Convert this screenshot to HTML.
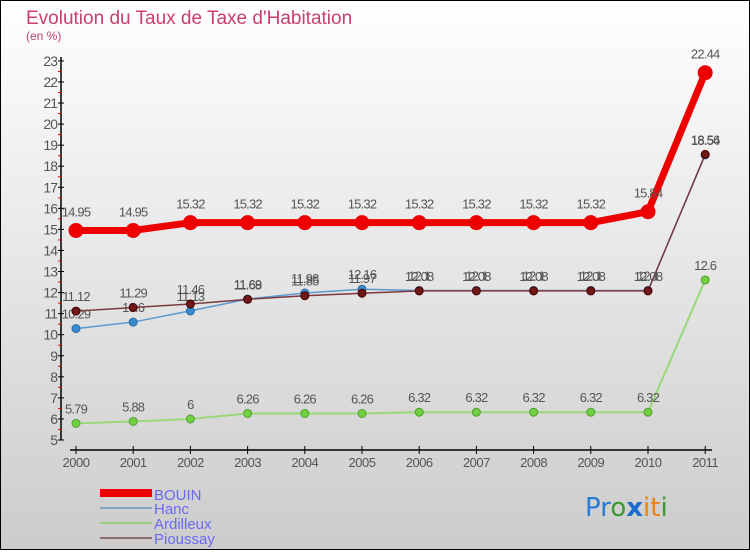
<!DOCTYPE html>
<html><head><meta charset="utf-8"><style>
body{margin:0}
#c{width:750px;height:550px;position:relative;font-family:"Liberation Sans",sans-serif}
</style></head><body>
<div id="c">
<svg id="s" width="750" height="550" xmlns="http://www.w3.org/2000/svg">
<defs><linearGradient id="bg" x1="0" y1="0" x2="0" y2="1"><stop offset="0" stop-color="#ffffff"/><stop offset="1" stop-color="#cccccc"/></linearGradient></defs>
<rect x="0.5" y="0.5" width="749" height="549" fill="url(#bg)" stroke="#000"/>
<text x="26" y="24" font-size="19" fill="#c8406a">Evolution du Taux de Taxe d'Habitation</text>
<text x="26" y="40" font-size="12" fill="#c8406a">(en %)</text>
<g id="axes"></g><g id="series"></g>
<g>
<rect x="100" y="489" width="52" height="8" fill="#e00"/>
<text x="154" y="500" font-size="15" fill="#6a6af0">BOUIN</text>
<rect x="100" y="507" width="52" height="2" fill="#7ea8c8"/>
<text x="154" y="514" font-size="15" fill="#6a6af0">Hanc</text>
<rect x="100" y="522" width="52" height="2" fill="#98d080"/>
<text x="154" y="529" font-size="15" fill="#6a6af0">Ardilleux</text>
<rect x="100" y="537" width="52" height="2" fill="#8a6a6a"/>
<text x="154" y="544" font-size="15" fill="#6a6af0">Pioussay</text>
</g>
<text x="585" y="516" font-size="26" font-family="DejaVu Sans"><tspan fill="#2a7ad0">Pr</tspan><tspan fill="#3a9a30">o</tspan><tspan fill="#1a6ad0" font-weight="bold">x</tspan><tspan fill="#f08010">it</tspan><tspan fill="#3a9a30">i</tspan></text>
</svg></div>
<script>
const years=[2000,2001,2002,2003,2004,2005,2006,2007,2008,2009,2010,2011];
const yTicks=[5,6,7,8,9,10,11,12,13,14,15,16,17,18,19,20,21,22,23];
const bouin=[14.95,14.95,15.32,15.32,15.32,15.32,15.32,15.32,15.32,15.32,15.84,22.44];
const hanc=[10.29,10.6,11.13,11.69,11.98,12.16,12.1,12.1,12.1,12.1,12.1,18.54];
const ardilleux=[5.79,5.88,6,6.26,6.26,6.26,6.32,6.32,6.32,6.32,6.32,12.6];
const pioussay=[11.12,11.29,11.46,11.68,11.85,11.97,12.08,12.08,12.08,12.08,12.08,18.56];
const NS="http://www.w3.org/2000/svg";
const X=i=>76+i*57.2, Y=v=>440-(v-5)*21.06;
function mk(p,t,a){const e=document.createElementNS(NS,t);for(const k in a)e.setAttribute(k,a[k]);p.appendChild(e);return e;}
const ax=document.getElementById('axes'), se=document.getElementById('series');
let l=mk(ax,'line',{x1:61,y1:57,x2:61,y2:440,stroke:'#000','stroke-width':1.5});


l=mk(ax,'line',{x1:70,y1:450,x2:712,y2:450,stroke:'#000','stroke-width':1.5});


yTicks.forEach(v=>{
 mk(ax,'line',{x1:58,y1:Y(v),x2:64,y2:Y(v),stroke:'#000'});
 if(v<23) mk(ax,'line',{x1:58,y1:Y(v+0.5),x2:61,y2:Y(v+0.5),stroke:'#e00'});
 const t=mk(ax,'text',{x:57,y:Y(v)+5,'font-size':14,'text-anchor':'end',fill:'#555','letter-spacing':'-1'});
 t.textContent=v;
 
 
});
years.forEach((y,i)=>{
 mk(ax,'line',{x1:X(i),y1:446,x2:X(i),y2:454,stroke:'#000'});
 const t=mk(ax,'text',{x:X(i),y:467,'font-size':13,'text-anchor':'middle',fill:'#555','letter-spacing':'-0.5'});
 t.textContent=y;
 
 
});
function draw(name,data,col,w,r,dot,dotStroke,labels){
 const g=mk(se,'g',{});
 
 
 const pl=mk(g,'polyline',{points:data.map((v,i)=>X(i)+','+Y(v)).join(' '),fill:'none',stroke:col,'stroke-width':w,'stroke-linejoin':'round'});
 
 
 data.forEach((v,i)=>{
  const c=mk(g,'circle',{cx:X(i),cy:Y(v),r:r,fill:dot,stroke:dotStroke,'stroke-width':1});
  
  
  if(labels){const t=mk(g,'text',{x:X(i),y:Y(v)-10-(name==='bouin'?4:0),'font-size':13,'text-anchor':'middle',fill:'#555','letter-spacing':'-0.8'});
  t.textContent=v;
  
  }
 });
}
draw('ardilleux',ardilleux,'#98d878',2,4,'#70d040','#50a030',true);
draw('hanc',hanc,'#5a9ad0',1.5,4,'#3a8ad0','#2a6aa0',true);
draw('pioussay',pioussay,'#7a3a40',1.5,4,'#701818','#400',true);
draw('bouin',bouin,'#ee0000',7,7,'#ee0000','#ee0000',true);
</script>
</body></html>
